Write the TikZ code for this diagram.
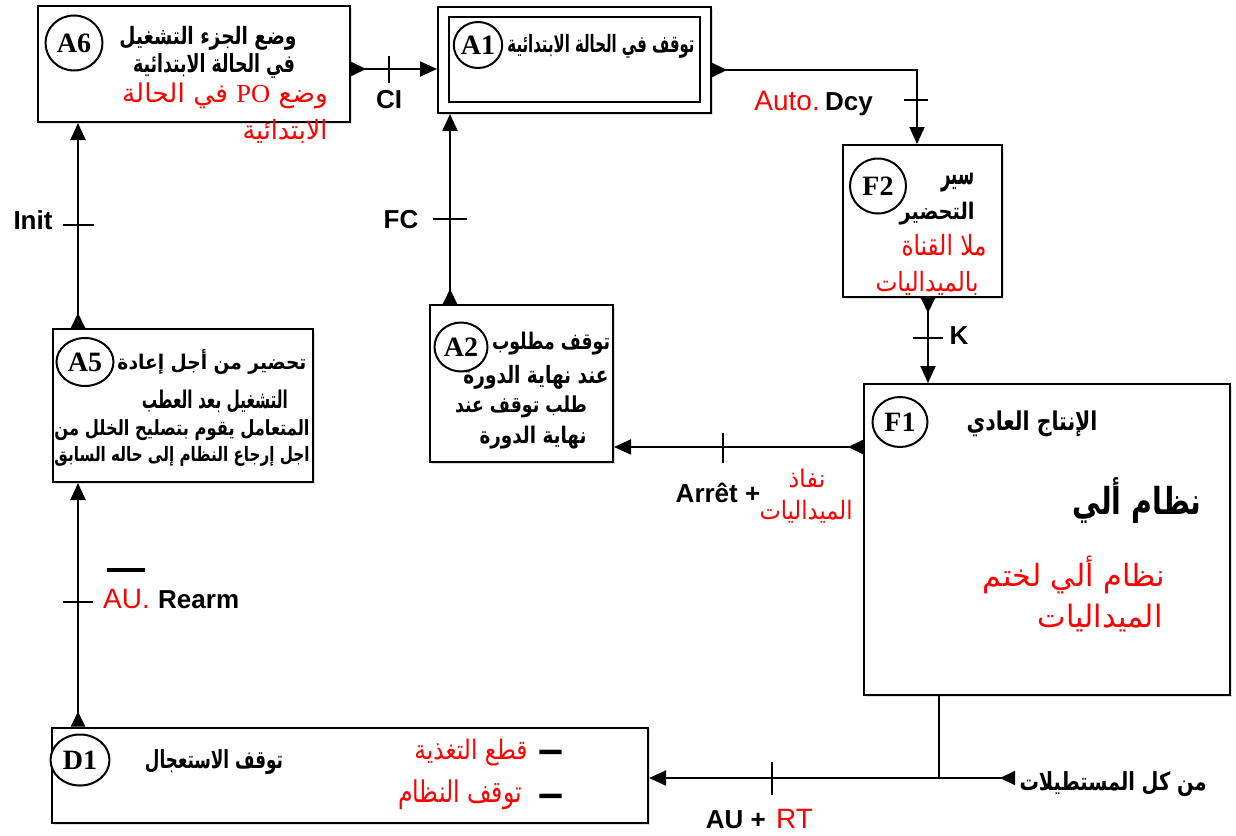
\documentclass[tikz,border=0pt]{standalone}
\usepackage{fontspec}
\setmainfont{Liberation Serif}
\newfontfamily\arabicfont[Script=Arabic]{DejaVu Sans}
\newfontfamily\lsans{Liberation Sans}
\newfontfamily\lserif{Liberation Serif}
\TeXXeTstate=1
\usetikzlibrary{arrows.meta,shapes.geometric,shadows}
\tikzset{
  box/.style={draw, line width=2pt, fill=white, inner sep=0pt,
    drop shadow={shadow xshift=2pt,shadow yshift=-2pt,opacity=0.25}},
  ibox/.style={draw, line width=2pt, inner sep=0pt},
  circ/.style={draw, ellipse, line width=2pt, inner sep=0pt, fill=white,
    font=\lserif\bfseries\fontsize{28}{28}\selectfont},
  conn/.style={line width=2pt,
    {Triangle[reversed,length=15pt,width=14pt]}-{Triangle[length=17pt,width=15pt]}},
  plain/.style={line width=2pt},
  tickmark/.style={line width=1.6pt},
  lab/.style={font=\lsans\bfseries\fontsize{26}{26}\selectfont, inner sep=0pt},
  redlab/.style={font=\lsans\fontsize{28}{28}\selectfont, text=red, inner sep=0pt},
  arb/.style={font=\arabicfont\bfseries, inner sep=0pt},
  arr/.style={font=\arabicfont, text=red, inner sep=0pt},
  dashmark/.style={font=\lsans\bfseries\fontsize{45}{45}\selectfont, inner sep=0pt},
}
\begin{document}
\begin{tikzpicture}[x=1pt,y=-1pt]
\useasboundingbox[fill=white] (0,0) rectangle (1236,835);

% helper coordinates
\coordinate (y69) at (0,69);
\coordinate (y70) at (0,70);
\coordinate (y447) at (0,447);
\coordinate (y778) at (0,778);
\coordinate (x917) at (917,0);
\coordinate (x928) at (928,0);
\coordinate (x450) at (450,0);
\coordinate (x78) at (78,0);
\coordinate (x939) at (939,0);
\coordinate (junc) at (939,778);
\coordinate (src) at (1015,778);

% boxes
\node[box, minimum width=312pt, minimum height=116pt] (A6) at (194,64) {};
\node[box, minimum width=273pt, minimum height=106pt] (A1) at (574.5,60) {};
\node[ibox, minimum width=251pt, minimum height=85pt] (A1i) at (574.5,59.5) {};
\node[box, minimum width=159pt, minimum height=152pt] (F2) at (922.5,221) {};
\node[box, minimum width=183pt, minimum height=157pt] (A2) at (521.5,383.5) {};
\node[box, minimum width=260pt, minimum height=153pt] (A5) at (183,405.5) {};
\node[box, minimum width=366pt, minimum height=311pt] (F1) at (1047,539.5) {};
\node[box, minimum width=596pt, minimum height=95pt] (D1) at (350,775) {};

% step circles
\node[circ, minimum width=57pt, minimum height=55pt] (cA6) at (74,43) {A6};
\node[circ, minimum width=47pt, minimum height=46pt] (cA1) at (478,45) {A1};
\node[circ, minimum width=56pt, minimum height=55pt] (cF2) at (878,186) {F2};
\node[circ, minimum width=53pt, minimum height=49pt] (cA2) at (461,347) {A2};
\node[circ, minimum width=57pt, minimum height=48pt] (cA5) at (85,362) {A5};
\node[circ, minimum width=55pt, minimum height=50pt] (cF1) at (900,422) {F1};
\node[circ, minimum width=59pt, minimum height=51pt] (cD1) at (80,760) {D1};

% texts A6
\node[arb] (a6l1) at (208,38) {\resizebox*{177pt}{24pt}{\beginR وضع الجزء التشغيل\endR}};
\node[arb] (a6l2) at (214,66) {\resizebox*{162pt}{25pt}{\beginR في الحالة الابتدائية\endR}};
\node[arr] (a6l3) at (225,96) {\resizebox*{206pt}{26pt}{\beginR وضع \beginL{\lserif PO}\endL{} في الحالة\endR}};
\node[arr] (a6l4) at (285,131) {\resizebox*{85pt}{24pt}{\beginR الابتدائية\endR}};
% A1
\node[arb] (a1l1) at (601,46) {\resizebox*{187pt}{24pt}{\beginR توقف في الحالة الابتدائية\endR}};
% F2
\node[arb] (f2l1) at (958,183) {\resizebox*{33pt}{19pt}{\beginR سير\endR}};
\node[arb] (f2l2) at (937,214) {\resizebox*{75pt}{23pt}{\beginR التحضير\endR}};
\node[arr] (f2l3) at (944,245) {\resizebox*{85pt}{22pt}{\beginR ملا القناة\endR}};
\node[arr] (f2l4) at (927,283) {\resizebox*{103pt}{24pt}{\beginR بالميداليات\endR}};
% A2
\node[arb] (a2l1) at (551,344) {\resizebox*{118pt}{23pt}{\beginR توقف مطلوب\endR}};
\node[arb] (a2l2) at (536,377) {\resizebox*{145pt}{24pt}{\beginR عند نهاية الدورة\endR}};
\node[arb] (a2l3) at (521,407) {\resizebox*{132pt}{22pt}{\beginR طلب توقف عند\endR}};
\node[arb] (a2l4) at (533,438) {\resizebox*{107pt}{23pt}{\beginR نهاية الدورة\endR}};
% A5
\node[arb] (a5l1) at (212,362) {\resizebox*{189pt}{25pt}{\beginR تحضير من أجل إعادة\endR}};
\node[arb] (a5l2) at (215,401) {\resizebox*{146pt}{23pt}{\beginR التشغيل بعد العطب\endR}};
\node[arb] (a5l3) at (182,430) {\resizebox*{255pt}{21pt}{\beginR المتعامل يقوم بتصليح الخلل من\endR}};
\node[arb] (a5l4) at (182,456) {\resizebox*{255pt}{20pt}{\beginR اجل إرجاع النظام إلى حاله السابق\endR}};
% F1
\node[arb] (f1l1) at (1032,424) {\resizebox*{131pt}{26pt}{\beginR الإنتاج العادي\endR}};
\node[arb] (f1l2) at (1137,501) {\resizebox*{129pt}{46pt}{\beginR نظام ألي\endR}};
\node[arr] (f1l3) at (1074,575) {\resizebox*{182pt}{38pt}{\beginR نظام ألي لختم\endR}};
\node[arr] (f1l4) at (1100,618) {\resizebox*{125pt}{28pt}{\beginR الميداليات\endR}};
% D1
\node[arb] (d1l1) at (214,762) {\resizebox*{138pt}{25pt}{\beginR توقف الاستعجال\endR}};
\node[arr] (d1l2) at (471,753) {\resizebox*{113pt}{27pt}{\beginR قطع التغذية\endR}};
\node[arr] (d1l3) at (460,795) {\resizebox*{124pt}{30pt}{\beginR توقف النظام\endR}};
\node[dashmark] (d1d1) at (551,757) {–};
\node[dashmark] (d1d2) at (551,801) {–};
% source text
\node[arb] (srct) at (1113,784) {\resizebox*{187pt}{25pt}{\beginR من كل المستطيلات\endR}};

% connectors
\draw[conn] (A6.east |- y69) -- (A1.west |- y69);
\draw[conn] (A1.east |- y70) -| (F2.north -| x917);
\draw[conn] (F2.south -| x928) -- (F1.north -| x928);
\draw[conn] (F1.west |- y447) -- (A2.east |- y447);
\draw[conn] (A2.north -| x450) -- (A1.south -| x450);
\draw[conn] (A5.north -| x78) -- (A6.south -| x78);
\draw[conn] (D1.north -| x78) -- (A5.south -| x78);
\draw[plain] (F1.south -| x939) -- (junc);
\draw[conn] (src) -- (D1.east |- y778);

% transition ticks
\draw[tickmark] (389,56) -- (389,83);
\draw[tickmark] (904,100) -- (928,100);
\draw[tickmark] (913,338) -- (943,338);
\draw[tickmark] (723,433) -- (723,463);
\draw[tickmark] (433,219) -- (467,219);
\draw[tickmark] (63,225) -- (94,225);
\draw[tickmark] (63,602) -- (93,602);
\draw[tickmark] (772,762) -- (772,795);

% transition labels
\node[lab] (lCI) at (389,100) {CI};
\node[redlab, anchor=base east] (lAuto) at (820,110) {Auto.};
\node[lab, anchor=base west] (lDcy) at (825,110) {Dcy};
\node[lab] (lK) at (959,336) {K};
\node[lab] (lFC) at (401,220) {FC};
\node[lab] (lInit) at (33,220) {Init};
\node[lab] (lArret) at (718,493) {Arrêt +};
\node[arr] (lnf1) at (807,478) {\resizebox*{37pt}{19pt}{\beginR نفاذ\endR}};
\node[arr] (lnf2) at (806,512) {\resizebox*{93pt}{23pt}{\beginR الميداليات\endR}};
\node[redlab, anchor=base east] (lAU) at (150,608) {AU.};
\node[lab, anchor=base west] (lRearm) at (158,608) {Rearm};
\draw[line width=4pt] (107,570) -- (145,570);
\node[lab, anchor=base east] (lAUp) at (766,828) {AU +};
\node[redlab, anchor=base west] (lRT) at (776,828) {RT};
\end{tikzpicture}
\end{document}
